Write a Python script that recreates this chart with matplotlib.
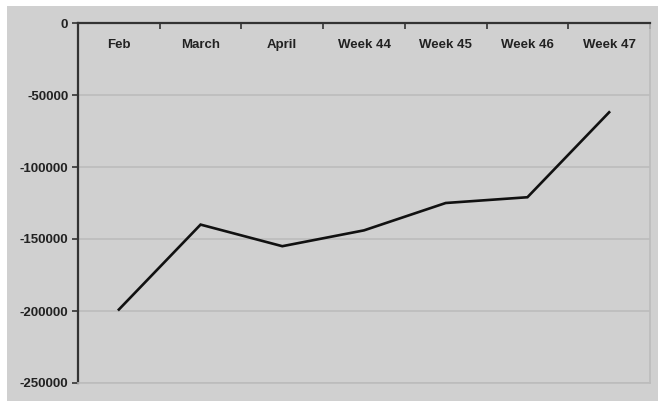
import matplotlib.pyplot as plt
from matplotlib.patches import Rectangle

# data
categories = ['Feb', 'March', 'April', 'Week 44', 'Week 45', 'Week 46', 'Week 47']
values = [-199000, -140000, -155000, -144000, -125000, -121000, -62000]
y_ticks = [0, -50000, -100000, -150000, -200000, -250000]

plt.rcParams['font.family'] = ['Liberation Sans', 'DejaVu Sans']
plt.rcParams['font.size'] = 9.5

bg = '#d0d0d0'
fig = plt.figure(figsize=(6.58, 4.01), dpi=100, facecolor='white')
# gray panel with thin white strip top/left like the scan
fig.patches.append(Rectangle((7 / 658, 0), 1, 1 - 6 / 401, transform=fig.transFigure,
                             facecolor=bg, edgecolor='none', zorder=-10))

ax = fig.add_axes([78 / 658, 1 - 383 / 401, 572 / 658, 360 / 401])
ax.set_facecolor(bg)

x = list(range(len(categories)))
ax.plot(x, values, color='#111111', lw=1.9, solid_joinstyle='miter', zorder=3)

ax.set_xlim(-0.5, len(categories) - 0.5)
ax.set_ylim(-250000, 0)

# horizontal gridlines
for yv in y_ticks[1:]:
    ax.axhline(yv, color='#bcbcbc', lw=1.2, zorder=1)

# category labels sit under the top axis
for i, c in enumerate(categories):
    ax.text(i, -15000, c, ha='center', va='center', fontweight='bold', fontsize=9.5, color='#222222')

ax.xaxis.tick_top()
ax.set_xticks([i - 0.5 for i in range(len(categories) + 1)])
ax.set_xticklabels([])
ax.tick_params(axis='x', direction='in', length=4, width=1.2, color='#333333')

ax.set_yticks(y_ticks)
ax.set_yticklabels([str(v) for v in y_ticks], fontweight='bold', fontsize=9.5, color='#222222')
ax.tick_params(axis='y', direction='out', length=4, width=1.2, color='#333333', pad=3)

for s in ['left', 'top']:
    ax.spines[s].set_color('#333333')
    ax.spines[s].set_linewidth(1.6)
ax.spines['right'].set_color('#bcbcbc')
ax.spines['right'].set_linewidth(1.2)
ax.spines['bottom'].set_color('#bcbcbc')
ax.spines['bottom'].set_linewidth(1.2)

fig.savefig('out.png', dpi=100, facecolor='white')
